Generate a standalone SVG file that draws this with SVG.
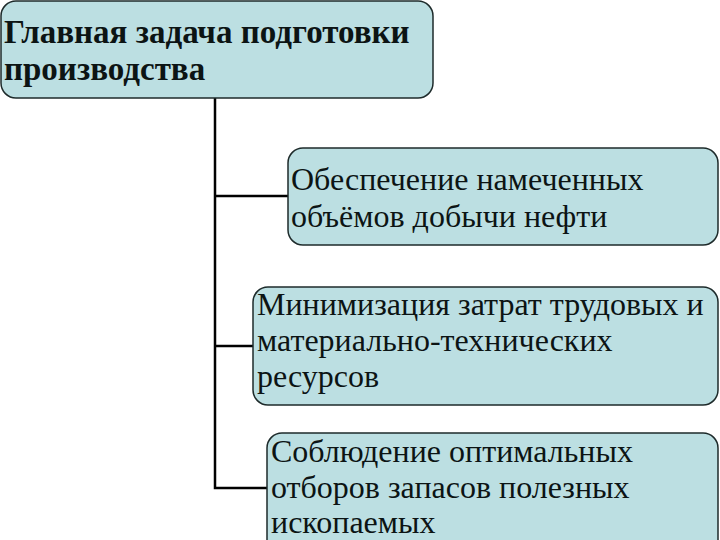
<svg xmlns="http://www.w3.org/2000/svg" width="720" height="540" viewBox="0 0 720 540">
<style>
.box{fill:#bcdfe2;stroke:#1e2b2b;stroke-width:1.5}
.c{fill:none;stroke:#000;stroke-width:2.5}
text{font-family:'Liberation Serif',serif;font-size:32px;fill:#0c1414}
.b{font-weight:bold;font-size:33px}
</style>
<rect width="720" height="540" fill="#fff"/>
<g id="connectors">
<path class="c" d="M215,98 V488 H267"/>
<path class="c" d="M215,196 H289"/>
<path class="c" d="M215,346 H253"/>
</g>
<g id="main">
<rect class="box" x="1" y="1" width="432" height="97" rx="15"/>
<text class="b" x="4" y="43">Главная задача подготовки</text>
<text class="b" x="4" y="80">производства</text>
</g>
<g id="n1">
<rect class="box" x="288" y="148" width="430" height="97" rx="15"/>
<text x="291" y="190">Обеспечение намеченных</text>
<text x="291" y="227">объёмов добычи нефти</text>
</g>
<g id="n2">
<rect class="box" x="253" y="287" width="465" height="118" rx="15"/>
<text x="257" y="315">Минимизация затрат трудовых и</text>
<text x="257" y="351">материально-технических</text>
<text x="257" y="387">ресурсов</text>
</g>
<g id="n3">
<rect class="box" x="267" y="433" width="451" height="130" rx="15"/>
<text x="271" y="462">Соблюдение оптимальных</text>
<text x="271" y="498">отборов запасов полезных</text>
<text x="271" y="533">ископаемых</text>
</g>
</svg>
